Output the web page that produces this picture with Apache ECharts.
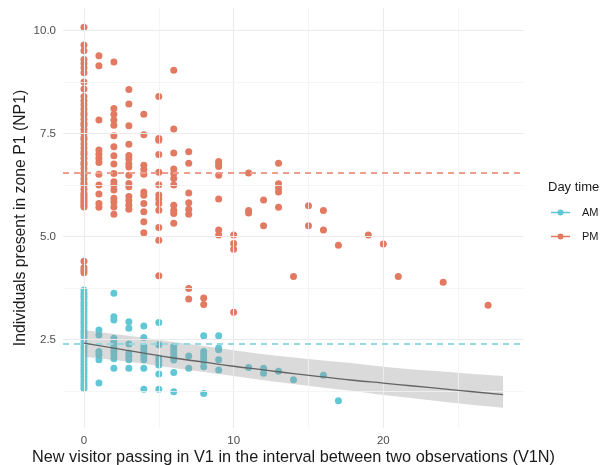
<!DOCTYPE html>
<html>
<head>
<meta charset="utf-8">
<script src="https://cdn.jsdelivr.net/npm/echarts@6/dist/echarts.min.js"></script>
<style>html,body{margin:0;padding:0;background:#fff;}#c{width:611px;height:465px;}</style>
</head>
<body>
<div id="c"></div>
<script>
// ---- data ----
const seriesNames = ['AM', 'PM'];
const xTicks = [0, 10, 20];
const yTicks = [2.5, 5.0, 7.5, 10.0];
const xMinor = [5, 15, 25];
const yMinor = [1.25, 3.75, 6.25, 8.75];

const amPoints = [
  [0,3.70],[0,3.62],[0,3.55],[0,3.48],[0,3.40],[0,3.33],[0,3.25],[0,3.18],[0,3.10],[0,3.02],[0,2.95],[0,2.88],
  [0,2.80],[0,2.72],[0,2.65],[0,2.58],[0,2.50],[0,2.42],[0,2.35],[0,2.28],[0,2.20],[0,2.12],[0,2.05],[0,1.98],
  [0,1.90],[0,1.82],[0,1.75],[0,1.68],[0,1.60],[0,1.52],[0,1.45],[0,1.38],[0,1.31],
  [1,2.73],[1,2.61],[1,2.21],[1,2.13],[1,2.01],[1,1.44],
  [2,3.62],[2,3.05],[2,2.97],[2,2.53],[2,2.45],[2,2.37],[2,2.29],[2,2.21],[2,2.13],[2,2.03],[2,1.80],
  [3,2.93],[3,2.77],[3,2.39],[3,2.17],[3,2.09],[3,2.01],[3,1.80],
  [4,2.83],[4,2.55],[4,2.33],[4,2.25],[4,2.17],[4,2.09],[4,2.01],[4,1.80],[4,1.29],
  [5,2.91],[5,2.37],[5,2.05],[5,1.97],[5,1.88],[5,1.66],[5,1.29],
  [6,2.33],[6,2.25],[6,2.17],[6,2.08],[6,2.00],[6,1.70],[6,1.23],
  [7,2.10],[7,1.80],
  [8,2.59],[8,2.21],[8,2.13],[8,2.05],[8,1.97],[8,1.84],[8,1.19],
  [9,2.59],[9,2.29],[9,2.25],[9,2.01],[9,1.76],
  [11,1.82],[12,1.80],[12,1.68],[13,1.73],[14,1.52],[16,1.63],[17,1.01]
];

const pmPoints = [
  [0,10.08],[0,9.65],[0,9.51],[0,9.30],[0,9.20],[0,9.10],[0,8.98],[0,8.75],[0,8.58],[0,8.40],[0,8.30],[0,8.20],
  [0,8.10],[0,8.00],[0,7.95],[0,7.85],[0,7.75],[0,7.70],[0,7.60],[0,7.50],[0,7.40],[0,7.35],[0,7.25],[0,7.15],
  [0,7.05],[0,7.00],[0,6.90],[0,6.80],[0,6.75],[0,6.65],[0,6.55],[0,6.50],[0,6.40],[0,6.30],[0,6.25],[0,6.15],
  [0,6.05],[0,6.00],[0,5.95],[0,5.90],[0,5.85],[0,5.80],[0,5.75],[0,5.72],[0,4.40],[0,4.25],[0,4.18],[0,4.12],
  [1,9.39],[1,9.15],[1,7.83],[1,7.10],[1,7.00],[1,6.90],[1,6.80],[1,6.51],[1,6.25],[1,6.03],[1,5.80],[1,5.71],
  [2,9.24],[2,8.11],[2,7.97],[2,7.83],[2,7.70],[2,7.45],[2,7.18],[2,6.96],[2,6.76],[2,6.53],[2,6.33],[2,6.25],
  [2,6.13],[2,5.93],[2,5.84],[2,5.72],[2,5.54],
  [3,8.57],[3,8.22],[3,7.69],[3,7.24],[3,6.97],[3,6.89],[3,6.77],[3,6.69],[3,6.49],[3,6.29],[3,6.21],[3,5.97],
  [3,5.87],[3,5.76],[3,5.66],
  [4,7.97],[4,7.47],[4,6.73],[4,6.63],[4,6.51],[4,6.08],[4,6.00],[4,5.80],[4,5.60],[4,5.36],[4,5.09],
  [5,8.40],[5,7.38],[5,7.34],[5,6.99],[5,6.56],[5,6.26],[5,6.01],[5,5.91],[5,5.80],[5,5.64],[5,5.22],[5,4.91],[5,4.05],
  [6,9.04],[6,7.61],[6,7.03],[6,6.64],[6,6.53],[6,6.41],[6,6.25],[6,5.76],[6,5.64],[6,5.56],[6,5.32],
  [7,7.06],[7,6.78],[7,6.06],[7,5.82],[7,5.66],[7,5.54],[7,3.74],[7,3.48],
  [8,3.51],[8,3.35],
  [9,6.82],[9,6.76],[9,6.70],[9,6.49],[9,5.91],[9,5.16],[9,5.04],
  [10,5.04],[10,4.83],[10,4.69],[10,3.16],
  [11,6.54],[11,5.63],[11,5.57],
  [12,5.89],[12,5.26],
  [13,6.78],[13,6.28],[13,6.18],[13,6.08],[13,5.71],
  [14,4.03],[15,5.75],[15,5.26],[16,5.63],[16,5.16],[17,4.79],[19,5.04],[20,4.82],[21,4.03],[24,3.89],[27,3.33]
];

const meanAM = 2.39;
const meanPM = 6.56;

const fitX     = [0, 2, 4, 6, 8, 10, 12, 14, 16, 18, 20, 22, 24, 26, 28];
const fitY     = [2.41, 2.29, 2.17, 2.05, 1.95, 1.85, 1.76, 1.67, 1.59, 1.51, 1.44, 1.37, 1.30, 1.23, 1.16];
const fitUpper = [2.73, 2.63, 2.54, 2.44, 2.34, 2.24, 2.14, 2.06, 1.99, 1.92, 1.84, 1.77, 1.72, 1.66, 1.61];
const fitLower = [2.08, 2.00, 1.91, 1.81, 1.71, 1.61, 1.51, 1.42, 1.33, 1.25, 1.15, 1.07, 0.99, 0.91, 0.84];

// ---- styling ----
const colAM = '#62C7D5';
const colPM = '#E27A62';
const FONT = 'Liberation Sans, Arial, Helvetica, sans-serif';

const legendIcon = 'path://M0,2.3 L19,2.3 L19,3.7 L0,3.7 Z M6.5,3 A3,3 0 1 1 12.5,3 A3,3 0 1 1 6.5,3 Z';

const gridLines = [];
xTicks.forEach(v => gridLines.push({xAxis: v, lineStyle: {color: '#EBEBEB', width: 1.1, type: 'solid'}}));
xMinor.forEach(v => gridLines.push({xAxis: v, lineStyle: {color: '#F3F3F3', width: 0.8, type: 'solid'}}));
yTicks.forEach(v => gridLines.push({yAxis: v, lineStyle: {color: '#EBEBEB', width: 1.1, type: 'solid'}}));
yMinor.forEach(v => gridLines.push({yAxis: v, lineStyle: {color: '#F3F3F3', width: 0.8, type: 'solid'}}));

const ribbonData = fitX.map((x, i) => [x, fitLower[i], fitUpper[i]]);

const chart = echarts.init(document.getElementById('c'), null, {renderer: 'canvas'});
chart.setOption({
  animation: false,
  backgroundColor: '#ffffff',
  textStyle: {fontFamily: FONT},
  title: {
    text: 'Day time', left: 548, top: 181, padding: 0,
    textStyle: {fontFamily: FONT, fontSize: 13, fontWeight: 'normal', color: '#1a1a1a'}
  },
  legend: {
    orient: 'vertical', left: 551, top: 207, padding: 0, itemWidth: 19, itemHeight: 6, itemGap: 13,
    data: [
      {name: 'AM', icon: legendIcon, itemStyle: {color: colAM}},
      {name: 'PM', icon: legendIcon, itemStyle: {color: colPM}}
    ],
    textStyle: {fontFamily: FONT, fontSize: 11, color: '#1a1a1a', padding: [0, 0, 0, 7]}
  },
  grid: {left: 63, right: 87, top: 8, bottom: 37, containLabel: false, outerBoundsMode: 'none'},
  xAxis: {
    type: 'value', min: -1.4, max: 29.4,
    axisLine: {show: false}, axisTick: {show: false}, splitLine: {show: false},
    axisLabel: {customValues: xTicks, formatter: v => String(v), color: '#4d4d4d', fontSize: 11.5, margin: 7, fontFamily: FONT},
    name: 'New visitor passing in V1 in the interval between two observations (V1N)',
    nameLocation: 'middle', nameGap: 22, nameMoveOverlap: false,
    nameTextStyle: {fontFamily: FONT, fontSize: 16.3, color: '#1a1a1a'}
  },
  yAxis: {
    type: 'value', min: 0.35, max: 10.55,
    axisLine: {show: false}, axisTick: {show: false}, splitLine: {show: false},
    axisLabel: {customValues: yTicks, formatter: v => v.toFixed(1), color: '#4d4d4d', fontSize: 11.5, margin: 7, fontFamily: FONT},
    name: 'Individuals present in zone P1 (NP1)',
    nameLocation: 'middle', nameGap: 34, nameMoveOverlap: false,
    nameTextStyle: {fontFamily: FONT, fontSize: 15.8, color: '#1a1a1a'}
  },
  series: [
    {
      name: 'grid', type: 'scatter', data: [], silent: true, z: 0,
      markLine: {silent: true, symbol: ['none', 'none'], label: {show: false}, data: gridLines, animation: false}
    },
    {
      name: 'PM', type: 'scatter', data: pmPoints, symbolSize: 7, z: 2,
      itemStyle: {color: colPM, opacity: 1},
      markLine: {silent: true, symbol: ['none', 'none'], label: {show: false},
        lineStyle: {color: '#EE9E8C', width: 1.8, type: [6, 5]}, data: [{yAxis: meanPM}]}
    },
    {
      name: 'AM', type: 'scatter', data: amPoints, symbolSize: 7, z: 2,
      itemStyle: {color: colAM, opacity: 1},
      markLine: {silent: true, symbol: ['none', 'none'], label: {show: false},
        lineStyle: {color: '#95DAE3', width: 1.8, type: [6, 5]}, data: [{yAxis: meanAM}]}
    },
    {
      name: 'ribbon', type: 'custom', z: 4, silent: true,
      data: ribbonData,
      encode: {x: 0, y: [1, 2]},
      renderItem: function (params, api) {
        if (params.dataIndex !== 0) return null;
        const upper = [], lower = [];
        for (let i = 0; i < ribbonData.length; i++) {
          upper.push(api.coord([ribbonData[i][0], ribbonData[i][2]]));
          lower.push(api.coord([ribbonData[i][0], ribbonData[i][1]]));
        }
        const pts = upper.concat(lower.reverse());
        return {
          type: 'polygon',
          shape: {points: pts, smooth: 0},
          style: {fill: 'rgba(153,153,153,0.36)', stroke: null}
        };
      }
    },
    {
      name: 'fit', type: 'line', z: 5, silent: true, smooth: true,
      data: fitX.map((x, i) => [x, fitY[i]]),
      showSymbol: false, lineStyle: {color: '#636363', width: 1.3}
    }
  ]
});
</script>
</body>
</html>
